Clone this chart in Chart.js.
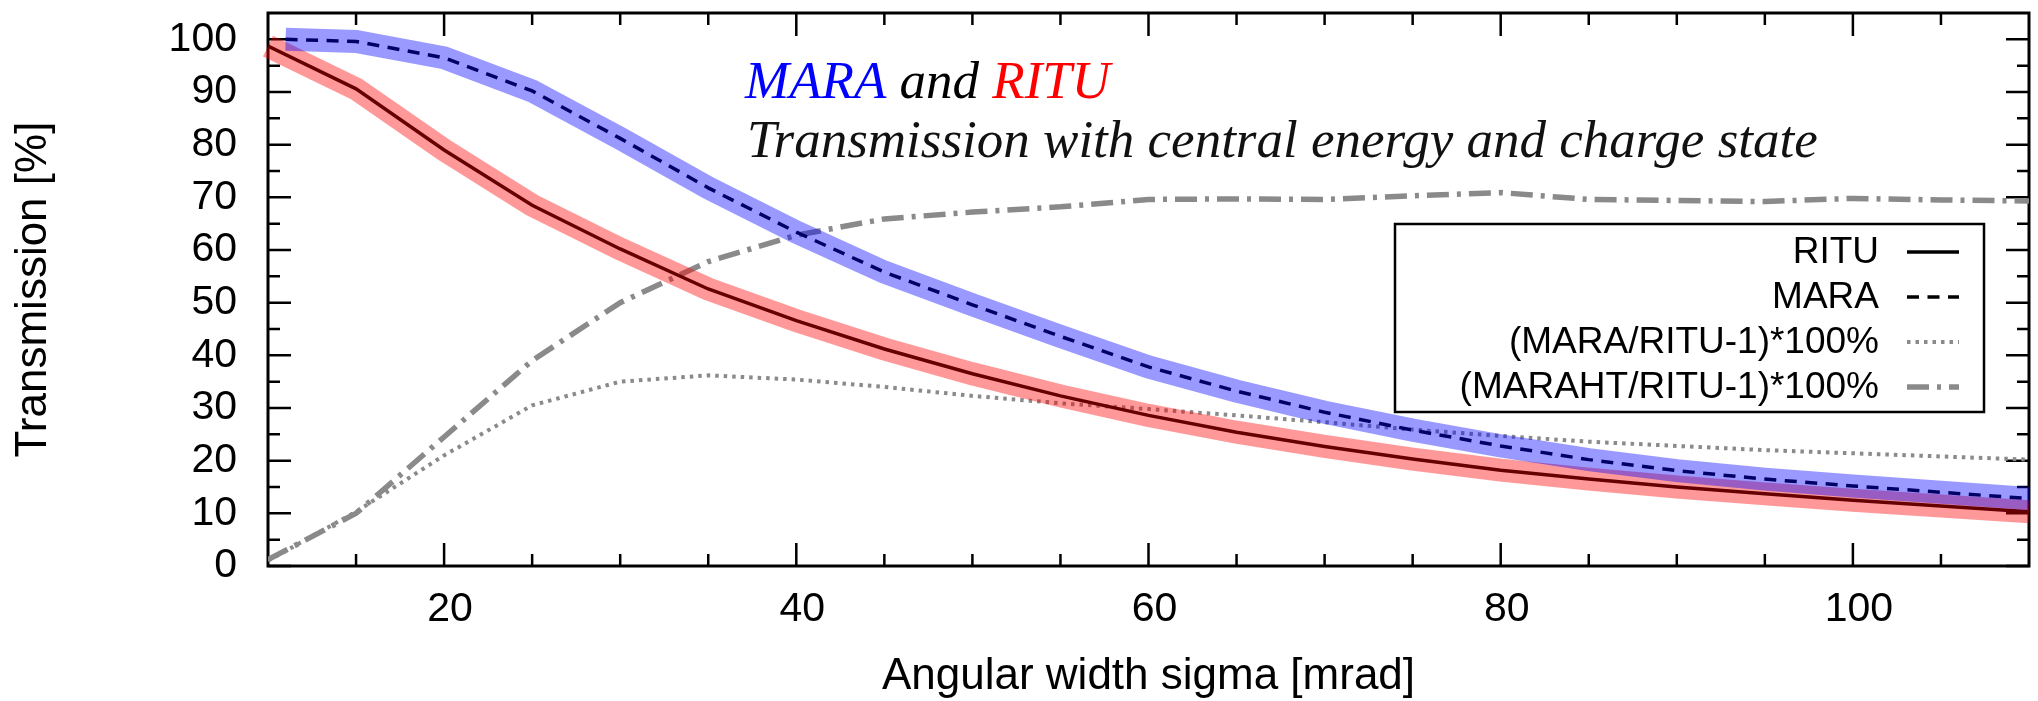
<!DOCTYPE html>
<html>
<head>
<meta charset="utf-8">
<title>MARA and RITU transmission</title>
<script src="https://cdn.jsdelivr.net/npm/chart.js@4.4.1/dist/chart.umd.min.js"></script>
<style>
  html, body { margin: 0; padding: 0; background: #ffffff; }
  canvas { display: block; }
</style>
</head>
<body>
<canvas id="chart" width="2038" height="701"></canvas>
<script>
// Angular width sigma [mrad] sampling
const sigma = [10, 15, 20, 25, 30, 35, 40, 45, 50, 55, 60, 65, 70, 75, 80, 85, 90, 95, 100, 105, 110];
const sigmaMara = [11, 15, 20, 25, 30, 35, 40, 45, 50, 55, 60, 65, 70, 75, 80, 85, 90, 95, 100, 105, 110];

// Transmission [%]
const ritu = [98.7, 90.6, 79.0, 68.5, 60.2, 52.6, 46.6, 41.2, 36.5, 32.3, 28.6, 25.4, 22.7, 20.3, 18.2, 16.5, 15.0, 13.7, 12.5, 11.4, 10.3];
const mara = [100.0, 99.6, 96.5, 90.2, 81.2, 71.8, 63.4, 55.8, 49.6, 43.6, 37.8, 33.2, 29.2, 25.8, 22.8, 20.2, 18.1, 16.5, 15.2, 14.0, 12.8];
const maraGain = [1.0, 10.3, 21.0, 30.5, 35.0, 36.2, 35.4, 34.0, 32.3, 30.9, 29.8, 28.6, 27.3, 25.9, 24.7, 23.6, 22.8, 22.0, 21.4, 20.8, 20.2];
const maraHtGain = [1.2, 10.0, 24.5, 39.0, 50.0, 57.8, 62.8, 65.9, 67.2, 68.2, 69.6, 69.7, 69.6, 70.3, 70.9, 69.6, 69.4, 69.2, 69.8, 69.5, 69.3];

// Axis ticks
const xTickValues = [20, 40, 60, 80, 100];
const yTickValues = [0, 10, 20, 30, 40, 50, 60, 70, 80, 90, 100];

// Texts
const seriesNames = ['RITU', 'MARA', '(MARA/RITU-1)*100%', '(MARAHT/RITU-1)*100%'];
const headingParts = [['MARA', '#0000ff'], [' and ', '#000000'], ['RITU', '#ff0000']];
const subHeading = 'Transmission with central energy and charge state';

const pts = (xs, ys) => xs.map((x, i) => ({ x: x, y: ys[i] }));

const GREY = '#8a8a8a';
const SANS = '"Liberation Sans", Arial, Helvetica, sans-serif';
const SERIF = '"Liberation Serif", "Times New Roman", serif';

// Datasets: lower "order" is painted later (on top)
const datasets = [
  { label: 'MARA band', data: pts(sigmaMara, mara), borderColor: 'rgba(0,0,255,0.4)', borderWidth: 23, order: 0, clip: false },
  { label: 'RITU band', data: pts(sigma, ritu), borderColor: 'rgba(255,0,0,0.4)', borderWidth: 23, order: 1, clip: false },
  { label: seriesNames[0], data: pts(sigma, ritu), borderColor: '#000000', borderWidth: 3.5, order: 2 },
  { label: seriesNames[1], data: pts(sigmaMara, mara), borderColor: '#000000', borderWidth: 3.5, borderDash: [12, 8.5], order: 3 },
  { label: seriesNames[3], data: pts(sigma, maraHtGain), borderColor: GREY, borderWidth: 5.5, borderDash: [22, 8, 4, 8], order: 4 },
  { label: seriesNames[2], data: pts(sigma, maraGain), borderColor: GREY, borderWidth: 4, borderDash: [3.5, 5], order: 5 }
];
datasets.forEach(d => { d.pointRadius = 0; d.tension = 0; d.fill = false; });

// Border box with inward major/minor ticks on all four sides
const framePlugin = {
  id: 'frame',
  beforeDatasetsDraw(chart) {
    const { ctx, chartArea: a, scales: { x, y } } = chart;
    const major = 23, minor = 12;
    ctx.save();
    ctx.strokeStyle = '#000000';
    ctx.lineWidth = 2.5;
    ctx.lineCap = 'butt';
    ctx.beginPath();
    const xMinor = [];
    for (let i = 0; i < xTickValues.length; i++) {
      const v = xTickValues[i];
      [v - 15, v - 10, v - 5, v + 5].forEach(m => { if (m > x.min && m < x.max && !xMinor.includes(m) && !xTickValues.includes(m)) xMinor.push(m); });
    }
    const yMinor = [];
    for (let i = 0; i < yTickValues.length; i++) {
      const m = yTickValues[i] + 5;
      if (m > y.min && m < y.max) yMinor.push(m);
    }
    const vx = (v, len) => {
      const px = x.getPixelForValue(v);
      ctx.moveTo(px, a.bottom); ctx.lineTo(px, a.bottom - len);
      ctx.moveTo(px, a.top); ctx.lineTo(px, a.top + len);
    };
    const hy = (v, len) => {
      const py = y.getPixelForValue(v);
      ctx.moveTo(a.left, py); ctx.lineTo(a.left + len, py);
      ctx.moveTo(a.right, py); ctx.lineTo(a.right - len, py);
    };
    xTickValues.forEach(v => vx(v, major));
    xMinor.forEach(v => vx(v, minor));
    yTickValues.forEach(v => hy(v, major));
    yMinor.forEach(v => hy(v, minor));
    ctx.stroke();
    ctx.lineWidth = 3;
    ctx.strokeRect(a.left, a.top, a.right - a.left, a.bottom - a.top);
    ctx.restore();
  }
};

// Key box and the two-line italic heading
const overlayPlugin = {
  id: 'overlay',
  afterDatasetsDraw(chart) {
    const { ctx } = chart;
    ctx.save();

    // key
    const box = { l: 1395, t: 224, r: 1984, b: 412 };
    ctx.strokeStyle = '#000000';
    ctx.lineWidth = 2.5;
    ctx.strokeRect(box.l, box.t, box.r - box.l, box.b - box.t);
    const rows = [2, 3, 5, 4];
    ctx.font = '37px ' + SANS;
    ctx.textAlign = 'right';
    ctx.textBaseline = 'middle';
    rows.forEach((di, i) => {
      const ds = chart.data.datasets[di];
      const cy = 252 + i * 45;
      ctx.fillStyle = '#000000';
      ctx.fillText(ds.label, 1879, cy + 1);
      ctx.beginPath();
      ctx.strokeStyle = ds.borderColor;
      ctx.lineWidth = ds.borderWidth;
      ctx.setLineDash(ds.borderDash || []);
      ctx.moveTo(1907, cy);
      ctx.lineTo(1959, cy);
      ctx.stroke();
    });
    ctx.setLineDash([]);

    // heading
    ctx.font = 'italic 53px ' + SERIF;
    ctx.textAlign = 'left';
    ctx.textBaseline = 'alphabetic';
    let hx = 745;
    headingParts.forEach(([t, c]) => {
      ctx.fillStyle = c;
      ctx.fillText(t, hx, 98);
      hx += ctx.measureText(t).width;
    });
    ctx.fillStyle = '#111111';
    ctx.fillText(subHeading, 747, 157);
    ctx.restore();
  }
};

new Chart(document.getElementById('chart'), {
  type: 'line',
  data: { datasets: datasets },
  options: {
    responsive: false,
    animation: false,
    devicePixelRatio: 1,
    layout: { padding: { left: 0, top: 13, right: 9, bottom: 0 } },
    plugins: { legend: { display: false }, tooltip: { enabled: false }, title: { display: false } },
    scales: {
      x: {
        type: 'linear',
        min: 10,
        max: 110,
        afterBuildTicks: s => { s.ticks = xTickValues.map(v => ({ value: v })); },
        afterFit: s => { s.height = 135; s.paddingLeft = 0; s.paddingRight = 0; },
        grid: { display: false, drawTicks: false },
        border: { display: false },
        ticks: { color: '#000000', font: { family: SANS, size: 41, lineHeight: 1 }, padding: 23, labelOffset: 6, maxRotation: 0, autoSkip: false },
        title: { display: true, text: 'Angular width sigma [mrad]', color: '#000000', font: { family: SANS, size: 44, lineHeight: 1 }, padding: { top: 0, bottom: 2 } }
      },
      y: {
        type: 'linear',
        min: 0,
        max: 105,
        afterBuildTicks: s => { s.ticks = yTickValues.map(v => ({ value: v })); },
        afterFit: s => { s.width = 268; s.paddingTop = 0; s.paddingBottom = 0; },
        grid: { display: false, drawTicks: false },
        border: { display: false },
        ticks: { color: '#000000', font: { family: SANS, size: 41, lineHeight: 1 }, padding: 31, autoSkip: false },
        title: { display: true, text: 'Transmission [%]', color: '#000000', font: { family: SANS, size: 44, lineHeight: 1 }, padding: { top: 12, bottom: 0 } }
      }
    }
  },
  plugins: [framePlugin, overlayPlugin]
});
</script>
</body>
</html>
